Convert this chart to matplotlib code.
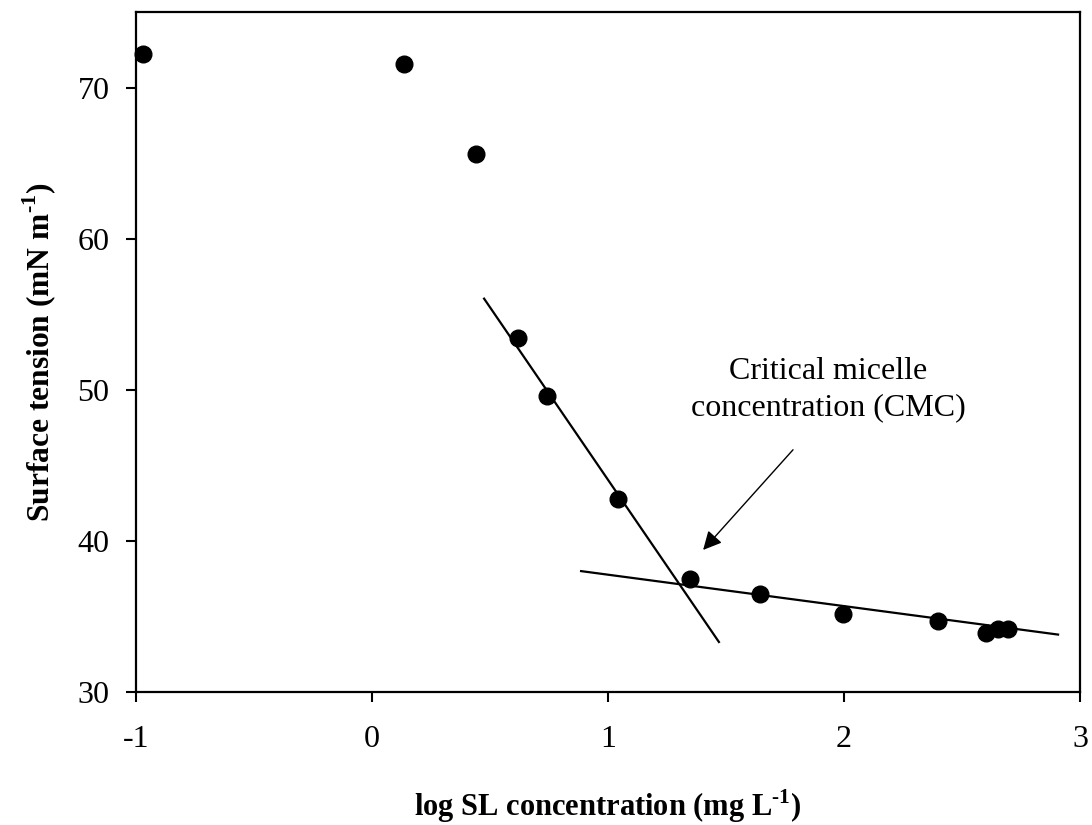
import matplotlib
matplotlib.use('Agg')
import matplotlib.pyplot as plt

# surface tension vs log SL concentration
log_conc = [-0.97, 0.137, 0.441, 0.619, 0.742, 1.042, 1.347, 1.644, 1.997, 2.398, 2.602, 2.653, 2.695]
tension = [72.25, 71.59, 65.63, 53.44, 49.6, 42.8, 37.5, 36.47, 35.17, 34.7, 33.9, 34.2, 34.2]

# fitted lines (end points)
steep_x = [0.475, 1.470]
steep_y = [56.03, 33.31]
flat_x = [0.886, 2.907]
flat_y = [38.0, 33.8]

xticks = [-1, 0, 1, 2, 3]
yticks = [30, 40, 50, 60, 70]

plt.rcParams['font.family'] = ['Liberation Serif', 'DejaVu Serif']
plt.rcParams['mathtext.fontset'] = 'custom'
plt.rcParams['mathtext.rm'] = 'Liberation Serif:bold'
plt.rcParams['mathtext.bf'] = 'Liberation Serif:bold'

fig = plt.figure(figsize=(10.92, 8.25), dpi=100)
ax = fig.add_axes([136/1092, 1 - 692/825, 944/1092, 680/825])

ax.plot(steep_x, steep_y, color='black', lw=1.6, zorder=2)
ax.plot(flat_x, flat_y, color='black', lw=1.6, zorder=2)
ax.plot(log_conc, tension, 'o', color='black', ms=12, zorder=3, clip_on=False)

ax.annotate('', xy=(1.403, 39.4), xytext=(1.784, 46.03),
            arrowprops=dict(arrowstyle='-|>', color='black', lw=1.0,
                            mutation_scale=28, shrinkA=0, shrinkB=0))
ax.text(1.932, 50.0, 'Critical micelle\nconcentration (CMC)', ha='center', va='center',
        fontsize=23, linespacing=1.35)

ax.set_xlim(-1, 3)
ax.set_ylim(30, 75)
ax.set_xticks(xticks)
ax.set_yticks(yticks)
ax.set_xticklabels([str(t) for t in xticks])
ax.tick_params(axis='both', direction='out', length=7, width=1.5, labelsize=23)
ax.tick_params(axis='x', pad=17)
ax.tick_params(axis='y', pad=12)
for s in ax.spines.values():
    s.set_linewidth(1.6)

ax.set_xlabel(r'log SL concentration (mg L$^{\text{-1}}$)', fontsize=22, fontweight='bold', labelpad=24)
ax.set_ylabel(r'Surface tension (mN m$^{\text{-1}}$)', fontsize=22.7, fontweight='bold', labelpad=14)

fig.savefig('out.png', dpi=100)
